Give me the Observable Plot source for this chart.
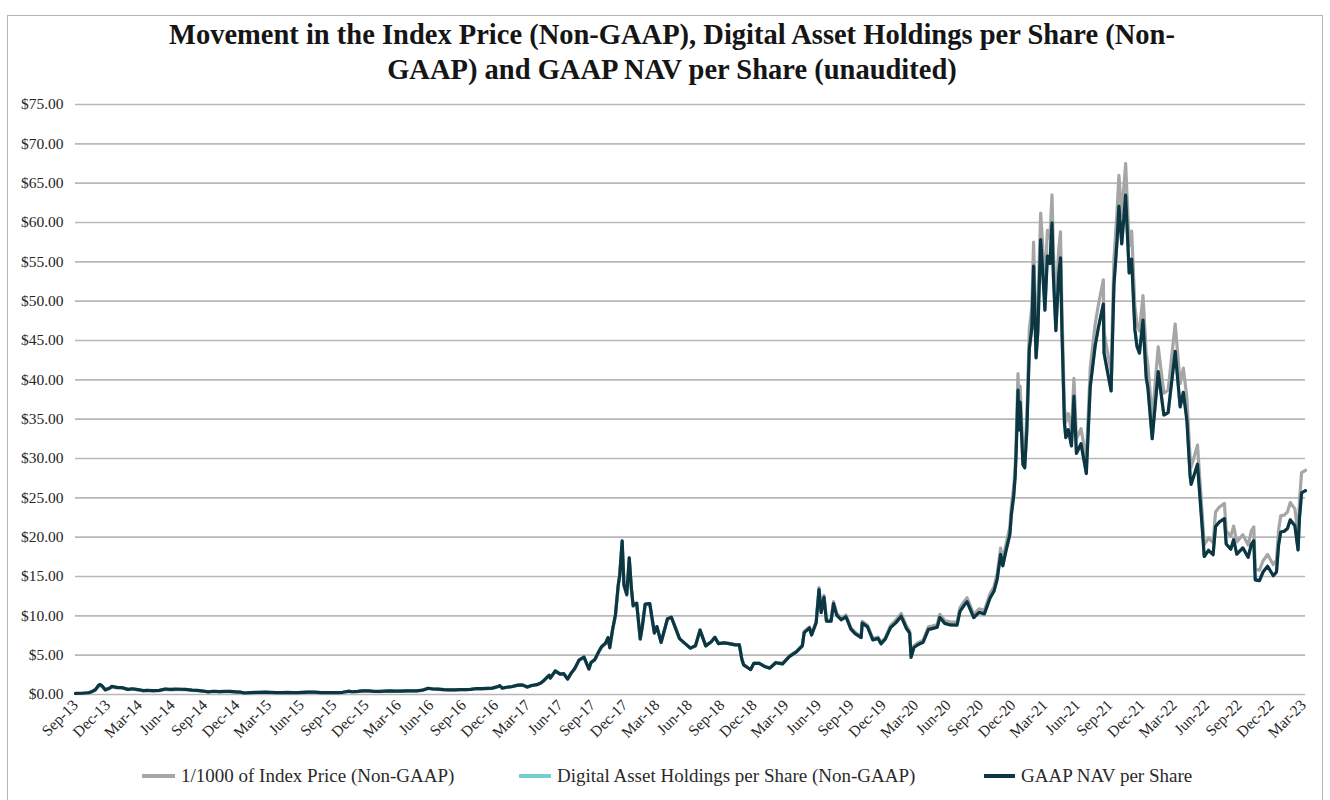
<!DOCTYPE html>
<html><head><meta charset="utf-8">
<script src="https://cdn.jsdelivr.net/npm/d3@7"></script>
<script src="https://cdn.jsdelivr.net/npm/@observablehq/plot@0.6"></script>
<style>
html,body{margin:0;padding:0;background:#fff;}
body{width:1330px;height:800px;position:relative;overflow:hidden;font-family:"Liberation Serif","Times New Roman",serif;}
#chart{position:absolute;left:0;top:0;}
#frame{position:absolute;left:7px;top:15px;width:1314px;height:800px;border:1px solid #b5b5b5;border-bottom:none;pointer-events:none;}
#title{position:absolute;left:0;top:17px;width:1344px;text-align:center;font-weight:bold;font-size:28.5px;line-height:35px;color:#151515;}
.leg{position:absolute;top:764px;font-size:19px;color:#2a2a2a;white-space:nowrap;line-height:24px;}
.sw{position:absolute;height:4px;top:774px;}
</style></head><body>
<div id="chart"></div>
<div id="title">Movement in the Index Price (Non-GAAP), Digital Asset Holdings per Share (Non-<br>GAAP) and GAAP NAV per Share (unaudited)</div>
<div id="legend"></div>
<div id="frame"></div>
<script>
// ---------------- DATA ----------------
const dates = [
  // 2013
  "2013-09-25","2013-10-15","2013-10-31","2013-11-10","2013-11-20","2013-11-30","2013-12-04","2013-12-10","2013-12-18","2013-12-31",
  // 2014
  "2014-01-05","2014-01-20","2014-02-05","2014-02-20","2014-03-05","2014-03-20","2014-04-05","2014-04-15","2014-05-01","2014-05-20","2014-06-05","2014-06-20",
  "2014-07-05","2014-07-20","2014-08-05","2014-08-20","2014-09-05","2014-09-20","2014-10-05","2014-10-20","2014-11-05","2014-11-20","2014-12-05","2014-12-20",
  // 2015
  "2015-01-05","2015-01-15","2015-02-01","2015-02-15","2015-03-01","2015-03-15","2015-04-01","2015-04-15","2015-05-01","2015-05-15","2015-06-01","2015-06-15",
  "2015-07-01","2015-07-15","2015-08-01","2015-08-20","2015-09-05","2015-09-20","2015-10-05","2015-10-20","2015-11-05","2015-11-15","2015-12-01","2015-12-15",
  // 2016
  "2016-01-01","2016-01-15","2016-02-01","2016-02-15","2016-03-01","2016-03-15","2016-04-01","2016-04-15","2016-05-01","2016-05-15","2016-06-01","2016-06-17",
  "2016-07-01","2016-07-15","2016-08-01","2016-08-15","2016-09-01","2016-09-15","2016-10-01","2016-10-15","2016-11-01","2016-11-15","2016-12-01","2016-12-15",
  // 2017
  "2017-01-01","2017-01-05","2017-01-12","2017-01-25","2017-02-10","2017-02-25","2017-03-10","2017-03-24","2017-04-05","2017-04-20",
  "2017-05-01","2017-05-10","2017-05-25","2017-05-28","2017-06-11","2017-06-25","2017-07-05","2017-07-16","2017-07-25","2017-08-05",
  "2017-08-17","2017-08-31","2017-09-14","2017-09-20","2017-10-01","2017-10-12","2017-10-20","2017-10-31","2017-11-07","2017-11-12",
  "2017-11-20","2017-11-28","2017-12-06","2017-12-10","2017-12-17","2017-12-22","2017-12-30",
  // 2018
  "2018-01-06","2018-01-12","2018-01-17","2018-01-27","2018-02-06","2018-02-12","2018-02-20","2018-03-05","2018-03-18","2018-03-25",
  "2018-04-06","2018-04-24","2018-05-05","2018-05-28","2018-06-12","2018-06-28","2018-07-12","2018-07-25","2018-08-10","2018-08-25",
  "2018-09-05","2018-09-15","2018-10-01","2018-10-15","2018-11-01","2018-11-13","2018-11-20","2018-11-25","2018-12-08","2018-12-15","2018-12-24",
  // 2019
  "2019-01-08","2019-01-25","2019-02-07","2019-02-24","2019-03-15","2019-04-03","2019-04-23","2019-05-10","2019-05-15","2019-05-30",
  "2019-06-05","2019-06-18","2019-06-26","2019-07-02","2019-07-10","2019-07-17","2019-07-30","2019-08-06","2019-08-15","2019-08-28",
  "2019-09-10","2019-09-24","2019-10-06","2019-10-23","2019-10-26","2019-11-10","2019-11-25","2019-12-10","2019-12-18","2019-12-30",
  // 2020
  "2020-01-14","2020-01-30","2020-02-13","2020-02-28","2020-03-08","2020-03-12","2020-03-20","2020-04-01","2020-04-15","2020-04-30",
  "2020-05-10","2020-05-25","2020-06-01","2020-06-15","2020-07-01","2020-07-20","2020-07-28","2020-08-10","2020-08-17","2020-09-05",
  "2020-09-20","2020-10-05","2020-10-21","2020-11-01","2020-11-10","2020-11-20","2020-11-26","2020-12-05","2020-12-16","2020-12-20",
  "2020-12-27","2020-12-31",
  // 2021
  "2021-01-03","2021-01-08","2021-01-11","2021-01-14","2021-01-22","2021-01-27","2021-02-02","2021-02-09","2021-02-16","2021-02-21",
  "2021-02-28","2021-03-05","2021-03-13","2021-03-18","2021-03-25","2021-04-01","2021-04-08","2021-04-14","2021-04-18","2021-04-25",
  "2021-05-03","2021-05-08","2021-05-12","2021-05-19","2021-05-23","2021-05-30","2021-06-08","2021-06-15","2021-06-22","2021-07-05",
  "2021-07-20","2021-07-31","2021-08-14","2021-08-23","2021-09-06","2021-09-08","2021-09-20","2021-09-28","2021-10-06","2021-10-15",
  "2021-10-20","2021-10-28","2021-11-08","2021-11-18","2021-11-25","2021-12-04","2021-12-10","2021-12-17","2021-12-27",
  // 2022
  "2022-01-05","2022-01-10","2022-01-22","2022-02-08","2022-02-24","2022-03-08","2022-03-28","2022-04-11","2022-04-20","2022-04-30",
  "2022-05-09","2022-05-12","2022-05-30","2022-06-13","2022-06-18","2022-06-30","2022-07-13","2022-07-20","2022-07-30","2022-08-14",
  "2022-08-19","2022-09-01","2022-09-09","2022-09-18","2022-10-05","2022-10-20","2022-10-29","2022-11-05","2022-11-09","2022-11-21",
  "2022-12-01","2022-12-14","2022-12-30",
  // 2023
  "2023-01-08","2023-01-14","2023-01-20","2023-01-30","2023-02-08","2023-02-16","2023-03-01","2023-03-10","2023-03-14","2023-03-20","2023-03-31"
];

// 1/1000 of Index Price (Non-GAAP), $
const indexPrice = [
  0.125,0.145,0.20,0.33,0.55,1.10,1.15,0.95,0.55,0.75,
  0.95,0.83,0.80,0.60,0.67,0.58,0.45,0.50,0.45,0.49,0.65,0.60,
  0.63,0.62,0.59,0.52,0.48,0.41,0.32,0.38,0.34,0.36,0.37,0.32,
  0.27,0.18,0.23,0.24,0.26,0.28,0.24,0.22,0.23,0.24,0.225,0.235,
  0.26,0.29,0.28,0.23,0.235,0.23,0.24,0.27,0.40,0.33,0.37,0.45,
  0.43,0.38,0.37,0.40,0.43,0.415,0.415,0.43,0.45,0.455,0.53,0.76,
  0.67,0.66,0.60,0.57,0.57,0.61,0.61,0.64,0.73,0.71,0.75,0.78,
  1.00,1.12,0.80,0.90,1.00,1.17,1.20,0.93,1.12,1.23,
  1.42,1.75,2.40,2.05,2.95,2.55,2.60,1.93,2.60,3.25,
  4.30,4.70,3.20,4.00,4.40,5.40,6.00,6.45,7.15,5.90,
  8.20,10.0,13.8,15.0,19.3,13.8,12.6,
  17.2,13.4,11.2,11.5,7.0,8.6,11.4,11.5,7.8,8.6,
  6.6,9.6,9.8,7.1,6.5,5.9,6.2,8.2,6.2,6.7,
  7.3,6.5,6.6,6.5,6.35,6.35,4.5,3.8,3.4,3.2,4.0,
  4.0,3.57,3.4,4.1,3.95,4.9,5.5,6.3,8.0,8.6,
  7.7,9.3,13.6,10.6,12.6,9.5,9.5,11.8,10.3,9.7,
  10.1,8.5,7.9,7.4,9.3,8.8,7.1,7.3,6.6,7.2,
  8.8,9.5,10.3,8.7,8.1,4.9,6.2,6.6,6.9,8.6,
  8.7,8.9,10.2,9.4,9.2,9.2,11.0,11.9,12.3,10.2,
  10.9,10.7,12.8,13.7,15.3,18.6,17.1,19.1,21.3,23.8,
  26.5,29.0,
  32.7,40.8,35.5,39.2,30.8,30.4,35.5,46.4,49.2,57.5,
  45.2,48.8,61.2,57.6,51.7,59.0,58.0,63.5,56.2,49.0,
  56.6,58.8,49.2,36.7,34.6,35.7,33.5,40.2,32.5,33.8,
  29.8,41.5,47.1,49.5,52.7,46.1,43.0,41.0,55.3,61.5,
  66.0,60.9,67.5,57.0,58.9,49.4,47.1,46.2,50.7,
  43.4,41.9,35.0,44.2,38.3,38.7,47.1,39.5,41.5,37.7,
  30.1,28.9,31.7,22.5,19.0,19.9,19.3,23.2,23.8,24.3,
  20.8,20.1,21.4,19.4,20.3,19.0,20.8,21.3,15.9,15.8,
  17.0,17.8,16.5,
  17.1,20.9,22.7,22.8,23.2,24.4,23.6,20.2,24.7,28.2,28.5
];

// GAAP NAV per Share, $
const navPerShare = [
  0.14,0.16,0.22,0.36,0.60,1.20,1.26,1.04,0.60,0.82,
  1.03,0.90,0.87,0.65,0.73,0.63,0.49,0.54,0.49,0.53,0.70,0.65,
  0.68,0.67,0.64,0.56,0.52,0.44,0.34,0.41,0.37,0.39,0.40,0.34,
  0.29,0.19,0.25,0.26,0.28,0.30,0.26,0.23,0.24,0.26,0.24,0.25,
  0.28,0.31,0.30,0.24,0.25,0.24,0.25,0.28,0.42,0.35,0.39,0.47,
  0.45,0.40,0.39,0.42,0.45,0.43,0.43,0.45,0.47,0.47,0.55,0.79,
  0.70,0.69,0.62,0.59,0.59,0.63,0.63,0.66,0.76,0.74,0.78,0.81,
  1.02,1.14,0.82,0.92,1.02,1.19,1.22,0.95,1.14,1.25,
  1.45,1.79,2.45,2.09,3.01,2.60,2.65,1.97,2.65,3.31,
  4.37,4.77,3.25,4.06,4.46,5.47,6.08,6.53,7.24,5.97,
  8.30,10.12,13.96,15.17,19.52,13.95,12.74,
  17.37,13.53,11.31,11.61,7.07,8.68,11.50,11.55,7.83,8.64,
  6.63,9.63,9.82,7.11,6.50,5.89,6.19,8.18,6.18,6.67,
  7.26,6.46,6.56,6.46,6.30,6.30,4.47,3.77,3.37,3.17,3.97,
  3.95,3.52,3.35,4.04,3.89,4.82,5.41,6.19,7.86,8.45,
  7.56,9.13,13.35,10.40,12.36,9.32,9.31,11.56,10.09,9.50,
  9.89,8.32,7.73,7.24,9.09,8.60,6.94,7.13,6.44,7.03,
  8.50,9.17,9.94,8.39,7.81,4.73,5.98,6.36,6.65,8.28,
  8.37,8.56,9.81,9.04,8.84,8.83,10.56,11.42,11.80,9.78,
  10.45,10.25,12.26,13.12,14.64,17.80,16.36,18.26,20.36,22.75,
  25.33,27.71,
  31.00,38.68,33.65,37.16,29.20,28.82,33.62,43.94,46.59,54.45,
  42.80,46.12,57.83,54.43,48.86,55.72,54.78,59.97,53.08,46.26,
  53.42,55.50,46.43,34.63,32.65,33.68,31.61,37.92,30.65,31.87,
  28.09,39.11,44.37,46.62,49.63,43.41,40.48,38.59,52.04,57.86,
  62.09,57.28,63.47,53.58,55.35,46.41,44.24,43.39,47.60,
  40.32,38.92,32.51,41.04,35.53,35.84,43.61,36.55,38.40,34.87,
  27.82,26.71,29.28,20.77,17.54,18.33,17.77,21.36,21.91,22.35,
  19.13,18.48,19.67,17.83,18.64,17.44,19.09,19.54,14.58,14.48,
  15.57,16.30,15.10,
  15.57,19.02,20.66,20.75,21.11,22.20,21.46,18.37,22.46,25.64,25.91
];

// Digital Asset Holdings per Share (Non-GAAP), $ — coincides with the GAAP NAV line in the picture
const holdingsPerShare = navPerShare.slice();

const yTickValues = [0,5,10,15,20,25,30,35,40,45,50,55,60,65,70,75];
const xTickLabels = ["Sep-13","Dec-13","Mar-14","Jun-14","Sep-14","Dec-14","Mar-15","Jun-15","Sep-15","Dec-15",
  "Mar-16","Jun-16","Sep-16","Dec-16","Mar-17","Jun-17","Sep-17","Dec-17","Mar-18","Jun-18",
  "Sep-18","Dec-18","Mar-19","Jun-19","Sep-19","Dec-19","Mar-20","Jun-20","Sep-20","Dec-20",
  "Mar-21","Jun-21","Sep-21","Dec-21","Mar-22","Jun-22","Sep-22","Dec-22","Mar-23"];

const seriesNames = ["1/1000 of Index Price (Non-GAAP)","Digital Asset Holdings per Share (Non-GAAP)","GAAP NAV per Share"];
const seriesColors = ["#a6a6a6","#72cfcf","#0d3642"];

// ---------------- BUILD ----------------
const parse = d3.utcParse("%Y-%m-%d");
const months = {Jan:0,Feb:1,Mar:2,Apr:3,May:4,Jun:5,Jul:6,Aug:7,Sep:8,Oct:9,Nov:10,Dec:11};
const tickDates = xTickLabels.map(s => new Date(Date.UTC(2000 + +s.slice(4), months[s.slice(0,3)], 25)));
const labelByTime = new Map(tickDates.map((d, i) => [+d, xTickLabels[i]]));

const rows = (vals) => dates.map((d, i) => ({date: parse(d), value: vals[i]}));
const idx = rows(indexPrice), hold = rows(holdingsPerShare), nav = rows(navPerShare);

const chart = Plot.plot({
  width: 1330, height: 752,
  marginLeft: 75, marginRight: 25, marginTop: 104, marginBottom: 58,
  style: {background: "transparent", fontFamily: "'Liberation Serif','Times New Roman',serif", fontSize: "15.5px", color: "#262626"},
  x: {type: "utc", domain: [parse("2013-09-25"), parse("2023-03-31")]},
  y: {domain: [0, 75]},
  marks: [
    Plot.ruleY(yTickValues, {y: d => d, stroke: "#b8b8b8", strokeWidth: 1.7}),
    Plot.line(idx, {x: "date", y: "value", stroke: seriesColors[0], strokeWidth: 3.2}),
    Plot.line(hold, {x: "date", y: "value", stroke: seriesColors[1], strokeWidth: 3}),
    Plot.line(nav, {x: "date", y: "value", stroke: seriesColors[2], strokeWidth: 3.2}),
    Plot.axisY({ticks: yTickValues, tickSize: 0, tickPadding: 12, tickFormat: d => "$" + d.toFixed(2), label: null, fontSize: 15.5}),
    Plot.axisX({ticks: tickDates, tickSize: 0, tickPadding: 8, tickRotate: -45, tickFormat: d => labelByTime.get(+d), label: null, fontSize: 15.5})
  ]
});
document.getElementById("chart").appendChild(chart);

// legend
const legend = document.getElementById("legend");
const legPos = [{sw: 142, tx: 181}, {sw: 519, tx: 557}, {sw: 984, tx: 1021}];
seriesNames.forEach((name, i) => {
  const sw = document.createElement("div");
  sw.className = "sw";
  sw.style.left = legPos[i].sw + "px";
  sw.style.width = (legPos[i].tx - legPos[i].sw - 6) + "px";
  sw.style.background = seriesColors[i];
  legend.appendChild(sw);
  const t = document.createElement("div");
  t.className = "leg";
  t.style.left = legPos[i].tx + "px";
  t.textContent = name;
  legend.appendChild(t);
});
</script>
</body></html>
